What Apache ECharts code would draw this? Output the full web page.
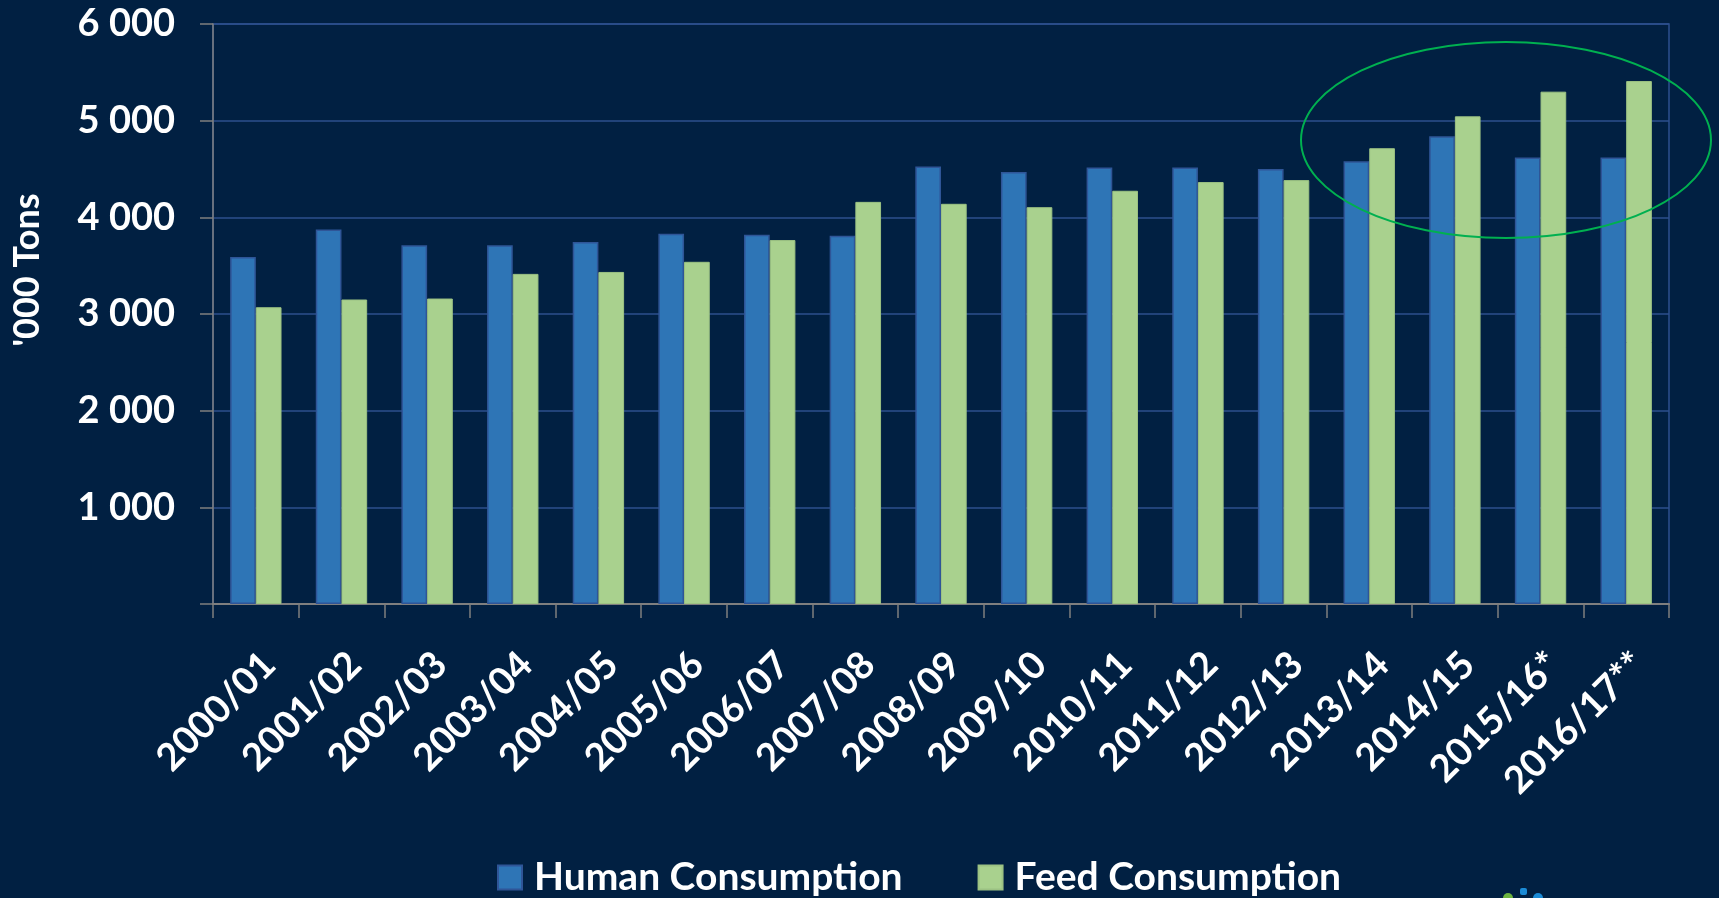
<!DOCTYPE html>
<html lang="en">
<head>
    <meta charset="UTF-8">
    <title>Human vs Feed Consumption</title>
    <script src="https://cdn.jsdelivr.net/npm/echarts@6/dist/echarts.min.js"></script>
    <style>
        html, body { margin: 0; padding: 0; background: #012042; }
    </style>
</head>
<body>
    <div style="width: 1719px; height: 898px" id="main"></div>
    <script type="text/javascript">
        // marketing years
        var years = ['2000/01', '2001/02', '2002/03', '2003/04', '2004/05', '2005/06', '2006/07', '2007/08',
            '2008/09', '2009/10', '2010/11', '2011/12', '2012/13', '2013/14', '2014/15', '2015/16*', '2016/17**'];

        // '000 tons
        var human = [3590, 3875, 3710, 3710, 3745, 3830, 3820, 3810, 4525, 4470, 4515, 4515, 4500, 4580, 4840, 4620, 4620];
        var feed = [3070, 3150, 3160, 3415, 3435, 3540, 3765, 4160, 4140, 4105, 4275, 4365, 4385, 4715, 5045, 5300, 5410];

        var yTicks = [0, 1000, 2000, 3000, 4000, 5000, 6000];

        var font = 'Lato, "Open Sans", sans-serif';
        var gray = '#7f7f7f';
        var gridBlue = '#2d4f8e';

        var myChart = echarts.init(document.getElementById('main'));
        var option = {
            backgroundColor: '#012042',
            animation: false,
            textStyle: { fontFamily: font },
            grid: {
                left: 213,
                right: 50,
                top: 24,
                bottom: 294,
                show: true,
                borderColor: gridBlue,
                borderWidth: 1.5
            },
            legend: {
                left: 497,
                top: 858,
                padding: 0,
                itemWidth: 24,
                itemHeight: 24,
                itemGap: 75,
                icon: 'rect',
                textStyle: {
                    color: '#ffffff',
                    fontSize: 39,
                    fontWeight: 'bold',
                    fontFamily: font,
                    padding: [0, 0, 0, 7]
                },
                data: ['Human Consumption', 'Feed Consumption']
            },
            xAxis: {
                type: 'category',
                data: years,
                axisLine: { lineStyle: { color: gray, width: 2 } },
                axisTick: { show: true, length: 14, lineStyle: { color: gray, width: 1.5 } },
                axisLabel: {
                    rotate: 45,
                    interval: 0,
                    margin: 41,
                    verticalAlign: 'top',
                    color: '#ffffff',
                    fontSize: 38,
                    fontWeight: 'bold',
                    fontFamily: font
                },
                splitLine: { show: false }
            },
            yAxis: {
                type: 'value',
                min: yTicks[0],
                max: yTicks[yTicks.length - 1],
                interval: 1000,
                name: "'000 Tons",
                nameLocation: 'middle',
                nameRotate: 90,
                nameGap: 168,
                nameTextStyle: {
                    color: '#ffffff',
                    fontSize: 36,
                    fontWeight: 'bold',
                    fontFamily: font,
                    padding: [0, 0, 0, 88]
                },
                axisLine: { show: true, lineStyle: { color: gray, width: 1.5 } },
                axisTick: { show: true, length: 13, lineStyle: { color: gray, width: 1.5 } },
                axisLabel: {
                    margin: 38,
                    color: '#ffffff',
                    fontSize: 38,
                    fontWeight: 'bold',
                    fontFamily: font,
                    formatter: function (v) {
                        if (v === 0) return '';
                        return String(v).replace(/\B(?=(\d{3})+(?!\d))/g, ' ');
                    }
                },
                splitLine: { show: true, lineStyle: { color: gridBlue, width: 1.5 } }
            },
            series: [
                {
                    name: 'Human Consumption',
                    type: 'bar',
                    barGap: '0%',
                    barCategoryGap: '40%',
                    itemStyle: { color: '#2e75b6', borderColor: '#2f5597', borderWidth: 1.5 },
                    data: human
                },
                {
                    name: 'Feed Consumption',
                    type: 'bar',
                    barGap: '0%',
                    barCategoryGap: '40%',
                    itemStyle: { color: '#a9d18e', borderColor: '#9cc283', borderWidth: 1 },
                    data: feed
                }
            ],
            graphic: [
                {
                    // highlight ring round the recent years
                    type: 'ellipse',
                    shape: { cx: 1506, cy: 140, rx: 205, ry: 98 },
                    style: { fill: 'none', stroke: '#00b050', lineWidth: 2 },
                    z: 100
                },
                // bit of the logo peeking in at the bottom
                { type: 'circle', shape: { cx: 1508, cy: 898, r: 5 }, style: { fill: '#6cb33f' } },
                { type: 'rect', shape: { x: 1520, y: 888, width: 7, height: 7, r: 2 }, style: { fill: '#1b8bd6' } },
                { type: 'circle', shape: { cx: 1538, cy: 898, r: 5 }, style: { fill: '#1b8bd6' } }
            ]
        };
        myChart.setOption(option);
    </script>
</body>
</html>
